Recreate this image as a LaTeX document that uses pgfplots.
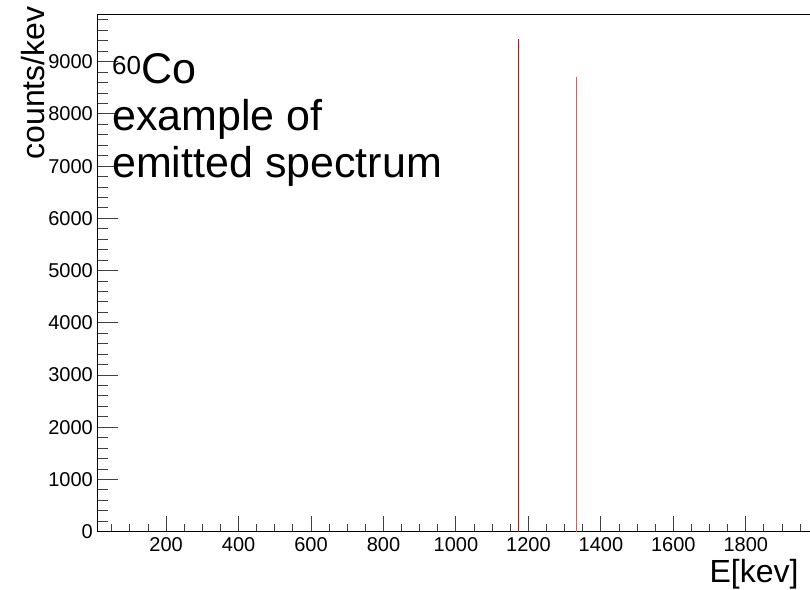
\documentclass[border=0pt]{standalone}
\usepackage{fontspec}
\setmainfont{Liberation Sans}
\usepackage{pgfplots}
\pgfplotsset{compat=1.18}
\begin{document}
\begin{tikzpicture}
\begin{axis}[
    scale only axis, width=724.6pt, height=517pt,
    xmin=10, xmax=2010, ymin=0, ymax=9900,
    axis line style={line width=1pt},
    tick align=inside, xtick pos=bottom, ytick pos=left,
    xtick={200,400,...,1800}, minor xtick={50,100,...,2000},
    ytick={0,1000,...,9000}, minor ytick={200,400,...,9800},
    xtick style={/pgfplots/major tick length=16pt,/pgfplots/minor tick length=8pt,line width=1pt,black!75},
    ytick style={/pgfplots/major tick length=21pt,/pgfplots/minor tick length=11pt,line width=1pt,black!75},
    scaled ticks=false,
    /pgf/number format/assume math mode=true,
    /pgf/number format/1000 sep={},
    ticklabel style={font=\fontsize{20}{20}\selectfont},
    xticklabel style={yshift=-2pt},
    yticklabel style={xshift=-1pt},
    clip=false
]
\addplot[ycomb, red!90!black, line width=1.2pt, mark=none] coordinates {(1173,9435)};
\addplot[ycomb, red!70!white, line width=1.2pt, mark=none] coordinates {(1333,8700)};
\end{axis}
% axis titles, ROOT style at the axis ends
\node[rotate=90, anchor=base east, font=\fontsize{32}{32}\selectfont] at (-52.8pt,528.7pt) {counts/kev};
\node[anchor=base east, font=\fontsize{32}{32}\selectfont] at (704.7pt,-51pt) {E[kev]};
% text in the pad
\node[anchor=base west, inner sep=0pt, font=\fontsize{43}{43}\selectfont] at (14.7pt,447.7pt) {\raisebox{9pt}{\fontsize{26}{26}\selectfont 60}Co};
\node[anchor=base west, inner sep=0pt, font=\fontsize{43}{43}\selectfont] at (14.7pt,400.7pt) {example of};
\node[anchor=base west, inner sep=0pt, font=\fontsize{43}{43}\selectfont] at (14.7pt,353.7pt) {emitted spectrum};
\pgfresetboundingbox
\path[use as bounding box] (-97.3pt,-57.3pt) rectangle (712.7pt,531.7pt);
\end{tikzpicture}
\end{document}
